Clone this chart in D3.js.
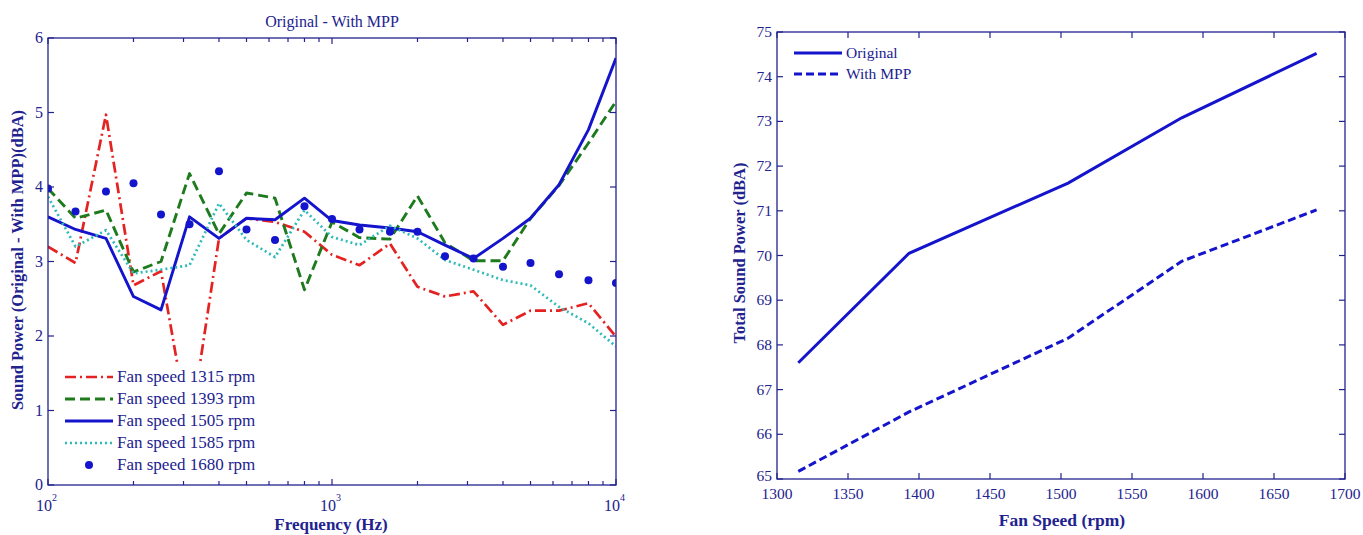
<!DOCTYPE html>
<html>
<head>
<meta charset="utf-8">
<script src="https://cdn.jsdelivr.net/npm/d3@7"></script>
<style>
  body { margin: 0; background: #fff; }
  svg text { font-family: "Liberation Serif", "Times New Roman", serif; fill: #22228f; }
</style>
</head>
<body>
<div id="chart-container"></div>
<script>
// left chart: 1/3 octave bands
const freqs = [100, 125, 160, 200, 250, 315, 400, 500, 630, 800, 1000, 1250, 1600, 2000, 2500, 3150, 4000, 5000, 6300, 8000, 10000];
const fan1315 = [3.20, 2.98, 4.97, 2.68, 2.87, 0.70, 3.31, 3.58, 3.53, 3.40, 3.09, 2.95, 3.24, 2.66, 2.53, 2.60, 2.15, 2.34, 2.34, 2.44, 1.99];
const fan1393 = [3.98, 3.58, 3.69, 2.86, 3.00, 4.18, 3.37, 3.92, 3.85, 2.62, 3.53, 3.32, 3.30, 3.88, 3.25, 3.01, 3.01, 3.58, 4.02, 4.59, 5.15];
const fan1505 = [3.60, 3.43, 3.31, 2.53, 2.35, 3.60, 3.31, 3.58, 3.56, 3.85, 3.55, 3.49, 3.45, 3.40, 3.22, 3.04, 3.31, 3.58, 4.03, 4.77, 5.73];
const fan1585 = [3.87, 3.20, 3.42, 2.84, 2.89, 2.95, 3.78, 3.29, 3.06, 3.69, 3.33, 3.22, 3.48, 3.31, 3.02, 2.89, 2.75, 2.68, 2.39, 2.17, 1.86];
const fan1680 = [3.98, 3.67, 3.94, 4.05, 3.63, 3.50, 4.21, 3.43, 3.29, 3.74, 3.57, 3.43, 3.40, 3.40, 3.07, 3.04, 2.93, 2.98, 2.83, 2.75, 2.71];
const seriesNames = ["Fan speed 1315 rpm", "Fan speed 1393 rpm", "Fan speed 1505 rpm", "Fan speed 1585 rpm", "Fan speed 1680 rpm"];
const leftYTicks = [0, 1, 2, 3, 4, 5, 6];
const leftXMajor = [100, 1000, 10000];

// right chart
const fanSpeeds = [1315, 1393, 1505, 1585, 1680];
const original = [67.6, 70.05, 71.62, 73.08, 74.52];
const withMpp = [65.17, 66.5, 68.15, 69.87, 71.02];
const rightXTicks = [1300, 1350, 1400, 1450, 1500, 1550, 1600, 1650, 1700];
const rightYTicks = [65, 66, 67, 68, 69, 70, 71, 72, 73, 74, 75];

const navy = "#22228f";
const W = 1363, H = 535;

const svg = d3.select("#chart-container").append("svg")
  .attr("width", W).attr("height", H);
svg.append("rect").attr("width", W).attr("height", H).attr("fill", "#fff");

// ---------- left chart ----------
const x1 = d3.scaleLog().domain([100, 10000]).range([48, 616]);
const y1 = d3.scaleLinear().domain([0, 6]).range([485, 38]);

const left = svg.append("g");
left.append("clipPath").attr("id", "clipL")
  .append("rect").attr("x", 48).attr("y", 38).attr("width", 568).attr("height", 447);

const styles = [
  { data: fan1315, color: "#e52222", dash: "11,4,2,4", width: 2.7 },
  { data: fan1393, color: "#1d7a1d", dash: "10,5", width: 2.9 },
  { data: fan1505, color: "#1414cc", dash: null, width: 2.9 },
  { data: fan1585, color: "#2fb9b9", dash: "2,3", width: 2.7 },
];

const line1 = d3.line().x((d, i) => x1(freqs[i])).y(d => y1(d));
const plotL = left.append("g").attr("clip-path", "url(#clipL)");

styles.forEach(s => {
  plotL.append("path")
    .attr("d", line1(s.data))
    .attr("fill", "none")
    .attr("stroke", s.color)
    .attr("stroke-width", s.width)
    .attr("stroke-dasharray", s.dash)
    .attr("stroke-linejoin", "round");
});

plotL.selectAll("circle.dot")
  .data(fan1680)
  .enter()
  .append("circle")
  .attr("class", "dot")
  .attr("cx", (d, i) => x1(freqs[i]))
  .attr("cy", d => y1(d))
  .attr("r", 4)
  .attr("fill", "#1414cc");

// legend (white box hides the lines under it)
const legL = left.append("g");
legL.append("rect").attr("x", 55).attr("y", 364).attr("width", 208).attr("height", 113).attr("fill", "#fff");
seriesNames.forEach((name, i) => {
  const ly = 377 + i * 22;
  if (i < 4) {
    const s = styles[i];
    legL.append("line")
      .attr("x1", 65).attr("x2", 113).attr("y1", ly).attr("y2", ly)
      .attr("stroke", s.color).attr("stroke-width", s.width)
      .attr("stroke-dasharray", s.dash);
  } else {
    legL.append("circle").attr("cx", 89).attr("cy", ly).attr("r", 4).attr("fill", "#1414cc");
  }
  legL.append("text").attr("x", 117).attr("y", ly + 5).attr("font-size", 17).text(name);
});

// frame
left.append("rect").attr("x", 48).attr("y", 38).attr("width", 568).attr("height", 447)
  .attr("fill", "none").attr("stroke", navy).attr("stroke-width", 1.3);

// log ticks, inward, mirrored top
const minorL = [];
[100, 1000].forEach(b => { for (let k = 2; k <= 9; k++) minorL.push(b * k); });
const tickG = left.append("g").attr("stroke", navy).attr("stroke-width", 1.2);
leftXMajor.forEach(v => {
  tickG.append("line").attr("x1", x1(v)).attr("x2", x1(v)).attr("y1", 485).attr("y2", 479);
  tickG.append("line").attr("x1", x1(v)).attr("x2", x1(v)).attr("y1", 38).attr("y2", 44);
});
minorL.forEach(v => {
  tickG.append("line").attr("x1", x1(v)).attr("x2", x1(v)).attr("y1", 485).attr("y2", 481);
  tickG.append("line").attr("x1", x1(v)).attr("x2", x1(v)).attr("y1", 38).attr("y2", 42);
});
leftYTicks.forEach(v => {
  tickG.append("line").attr("x1", 48).attr("x2", 54).attr("y1", y1(v)).attr("y2", y1(v));
  tickG.append("line").attr("x1", 616).attr("x2", 610).attr("y1", y1(v)).attr("y2", y1(v));
});

leftYTicks.forEach(v => {
  left.append("text").attr("x", 43).attr("y", y1(v) + 5)
    .attr("text-anchor", "end").attr("font-size", 16).text(v);
});
leftXMajor.forEach(v => {
  const t = left.append("text").attr("x", x1(v) - 12).attr("y", 511).attr("font-size", 16);
  t.append("tspan").text("10");
  t.append("tspan").attr("dy", -10).attr("font-size", 10).text(Math.round(Math.log10(v)));
});

left.append("text").attr("x", 332).attr("y", 27).attr("text-anchor", "middle")
  .attr("font-size", 16).text("Original - With MPP");
left.append("text").attr("x", 331).attr("y", 530).attr("text-anchor", "middle")
  .attr("font-size", 17).attr("font-weight", "bold").text("Frequency (Hz)");
left.append("text").attr("transform", "translate(23,260) rotate(-90)")
  .attr("text-anchor", "middle").attr("font-size", 16.5).attr("font-weight", "bold")
  .text("Sound Power (Original - With MPP)(dBA)");

// ---------- right chart ----------
const x2 = d3.scaleLinear().domain([1300, 1700]).range([777, 1345]);
const y2 = d3.scaleLinear().domain([65, 75]).range([479, 32]);
const right = svg.append("g");

const line2 = d3.line().x((d, i) => x2(fanSpeeds[i])).y(d => y2(d));
right.append("path").attr("d", line2(original))
  .attr("fill", "none").attr("stroke", "#1414cc").attr("stroke-width", 3);
right.append("path").attr("d", line2(withMpp))
  .attr("fill", "none").attr("stroke", "#1414cc").attr("stroke-width", 3)
  .attr("stroke-dasharray", "8,4");

right.append("rect").attr("x", 777).attr("y", 32).attr("width", 568).attr("height", 447)
  .attr("fill", "none").attr("stroke", navy).attr("stroke-width", 1.3);

const tickR = right.append("g").attr("stroke", navy).attr("stroke-width", 1.2);
rightXTicks.forEach(v => {
  tickR.append("line").attr("x1", x2(v)).attr("x2", x2(v)).attr("y1", 479).attr("y2", 473);
  tickR.append("line").attr("x1", x2(v)).attr("x2", x2(v)).attr("y1", 32).attr("y2", 38);
});
rightYTicks.forEach(v => {
  tickR.append("line").attr("x1", 777).attr("x2", 783).attr("y1", y2(v)).attr("y2", y2(v));
  tickR.append("line").attr("x1", 1345).attr("x2", 1339).attr("y1", y2(v)).attr("y2", y2(v));
});

rightXTicks.forEach(v => {
  right.append("text").attr("x", x2(v)).attr("y", 499).attr("text-anchor", "middle")
    .attr("font-size", 15.5).text(v);
});
rightYTicks.forEach(v => {
  right.append("text").attr("x", 772).attr("y", y2(v) + (v === 65 ? 2 : 5)).attr("text-anchor", "end")
    .attr("font-size", 15.5).text(v);
});

// legend
const legR = [["Original", null], ["With MPP", "8,4"]];
legR.forEach((d, i) => {
  const ly = 53 + i * 21;
  right.append("line").attr("x1", 794).attr("x2", 842).attr("y1", ly).attr("y2", ly)
    .attr("stroke", "#1414cc").attr("stroke-width", 3).attr("stroke-dasharray", d[1]);
  right.append("text").attr("x", 846).attr("y", ly + 5).attr("font-size", 15.5).text(d[0]);
});

right.append("text").attr("x", 1062).attr("y", 526).attr("text-anchor", "middle")
  .attr("font-size", 17.5).attr("font-weight", "bold").text("Fan Speed (rpm)");
right.append("text").attr("transform", "translate(745,253) rotate(-90)")
  .attr("text-anchor", "middle").attr("font-size", 16.5).attr("font-weight", "bold")
  .text("Total Sound Power (dBA)");
</script>
</body>
</html>
